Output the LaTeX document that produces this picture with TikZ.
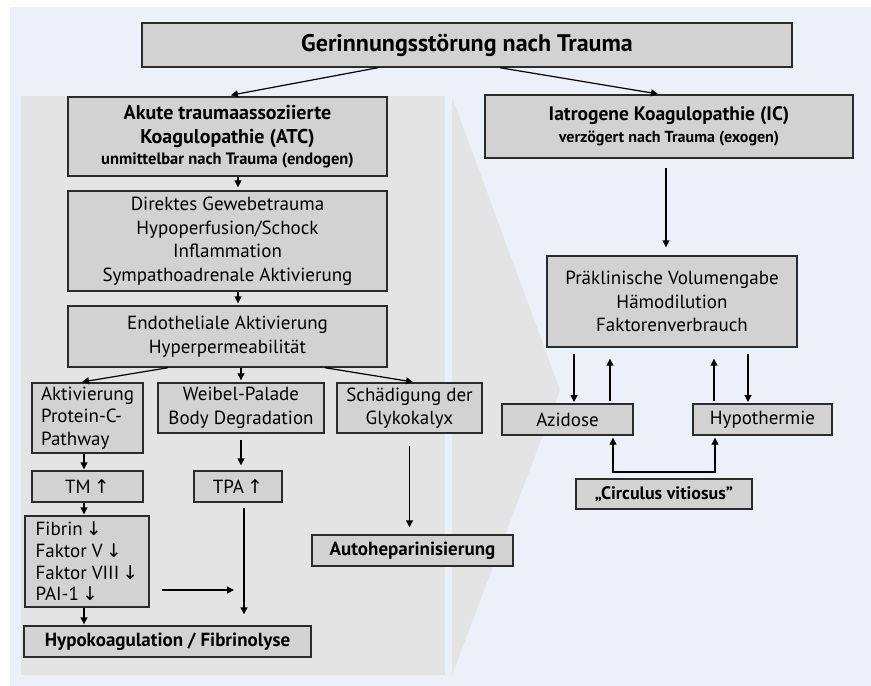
\documentclass[tikz,border=0pt]{standalone}
\usepackage{fontspec}
\setmainfont{PT Sans}
\newfontfamily\arrfont{DejaVu Sans}
\usetikzlibrary{arrows.meta,positioning}
\definecolor{panelblue}{HTML}{ECF0F9}
\definecolor{panelgrey}{HTML}{E4E4E4}
\definecolor{boxgrey}{HTML}{D1D2D1}
\definecolor{boxline}{HTML}{2B2B2B}
\newcommand{\hoch}{{\arrfont\,↑}}
\newcommand{\runter}{{\arrfont\,↓}}

\begin{document}
\begin{tikzpicture}[x=1pt,y=-1pt,>={Triangle[length=7pt,width=7pt]},line width=1.2pt,
  wh/.style 2 args={minimum width=#1,minimum height=#2}]
  \tikzstyle{box}=[draw=boxline,fill=boxgrey,line width=1.4pt,inner sep=0pt,align=center,font=\fontsize{19}{23.5}\selectfont]
  \tikzstyle{hbox}=[box,font=\fontsize{19}{23.5}\selectfont\bfseries]
  \useasboundingbox (0,0) rectangle (871,686);
  \fill[white] (0,0) rectangle (871,686);
  \fill[panelblue] (10,7) rectangle (871,686);
  \fill[panelgrey] (21,96) rectangle (445,675);
  \fill[panelgrey] (452,97) -- (560,390) -- (452,675) -- cycle;

  \node[hbox,wh={650}{44},font=\fontsize{24}{28}\selectfont\bfseries] (title) at (467,45) {Gerinnungsstörung nach Trauma};
  \node[hbox,wh={319}{79},font=\fontsize{20}{24.5}\selectfont\bfseries] (atc) at (227.5,136.5) {Akute traumaassoziierte\\Koagulopathie (ATC)\\[-4pt]\fontsize{16.5}{19}\selectfont unmittelbar nach Trauma (endogen)};
  \node[hbox,wh={368}{63},font=\fontsize{19.5}{24}\selectfont\bfseries] (ic) at (669,126.5) {Iatrogene Koagulopathie (IC)\\[-2pt]\fontsize{16}{19}\selectfont verzögert nach Trauma (exogen)};
  \node[box,wh={319}{100}] (dir) at (227.5,241) {Direktes Gewebetrauma\\Hypoperfusion/Schock\\Inflammation\\Sympathoadrenale Aktivierung};
  \node[box,wh={319}{61}] (endo) at (227.5,336.5) {Endotheliale Aktivierung\\Hyperpermeabilität};
  \node[box,wh={111}{70},align=left,font=\fontsize{19}{22.5}\selectfont] (akt) at (87.5,418) {Aktivierung\\Protein-C-\\Pathway};
  \node[box,wh={166}{50}] (wpb) at (241,408) {Weibel-Palade\\Body Degradation};
  \node[box,wh={145}{50}] (glyk) at (409.5,408) {Schädigung der\\Glykokalyx};
  \node[box,wh={111}{31}] (tm) at (87.5,486.5) {TM\hoch};
  \node[box,wh={88}{31}] (tpa) at (238,486.5) {TPA\hoch};
  \node[box,wh={124}{91},align=left,font=\fontsize{19}{21.7}\selectfont] (fib) at (87,561.5) {Fibrin\runter\\Faktor V\runter\\Faktor VIII\runter\\PAI-1\runter};
  \node[hbox,wh={287}{31}] (hypo) at (167.5,641.5) {Hypokoagulation / Fibrinolyse};
  \node[hbox,wh={201}{31}] (auto) at (412.5,550.5) {Autoheparinisierung};
  \node[box,wh={250}{91}] (prae) at (672,301.5) {Präklinische Volumengabe\\Hämodilution\\Faktorenverbrauch};
  \node[box,wh={131}{31}] (azi) at (567.5,419.5) {Azidose};
  \node[box,wh={139}{31}] (hyp) at (762.5,419.5) {Hypothermie};
  \node[hbox,wh={176}{30},font=\fontsize{18}{22}\selectfont\bfseries] (circ) at (664,494) {„Circulus vitiosus”};

  \coordinate (fibend) at (244,590);
  \coordinate (azidn) at (574,404);
  \coordinate (aziup) at (610,404);
  \coordinate (hypup) at (714,404);
  \coordinate (hypdn) at (748,404);
  \coordinate (cvl) at (613,472);
  \coordinate (cvr) at (715,472);

  \draw[->,shorten >=6pt] ([xshift=-89pt]title.south) -- ([xshift=-2.5pt]atc.north);
  \draw[->,shorten >=2pt] ([xshift=33pt]title.south) -- ([xshift=-9pt]ic.north);
  \draw[->,shorten >=3pt] ([xshift=10.5pt]atc.south) -- ([xshift=10.5pt]dir.north);
  \draw[->,shorten >=2pt] ([xshift=10.5pt]dir.south) -- ([xshift=10.5pt]endo.north);
  \draw[->,shorten >=2pt] ([xshift=-59.5pt]endo.south) -- ([xshift=-7.5pt]akt.north);
  \draw[->,shorten >=2pt] (endo.south -| wpb.north) -- (wpb.north);
  \draw[->,shorten >=2pt] ([xshift=97.5pt]endo.south) -- ([xshift=5.5pt]glyk.north);
  \draw[->,shorten >=1pt] ([xshift=-3.5pt]akt.south) -- ([xshift=-3.5pt]tm.north);
  \draw[->,shorten >=1pt] ([xshift=-3.5pt]tm.south) -- ([xshift=-3.5pt]tm.south |- fib.north);
  \draw[->,shorten >=1pt] ([xshift=-3pt]fib.south) -- ([xshift=-3pt]fib.south |- hypo.north);
  \draw[->,shorten <=6pt,shorten >=5pt] (wpb.south) -- (wpb.south |- tpa.north);
  \draw[->,shorten <=5pt,shorten >=11pt] (fibend |- tpa.south) -- (fibend |- hypo.north);
  \draw[->,shorten <=12pt,shorten >=10pt] (fib.east |- fibend) -- (fibend);
  \draw[->,shorten <=12pt,shorten >=7pt] (glyk.south) -- (glyk.south |- auto.north);
  \draw[->,shorten <=9pt,shorten >=8pt] ([xshift=-3pt]ic.south) -- ([xshift=-3pt]ic.south |- prae.north);
  \draw[->,shorten <=6pt,shorten >=2pt] (azidn |- prae.south) -- (azidn);
  \draw[->,shorten <=3pt,shorten >=11pt] (aziup) -- (aziup |- prae.south);
  \draw[->,shorten <=3pt,shorten >=11pt] (hypup) -- (hypup |- prae.south);
  \draw[->,shorten <=6pt,shorten >=2pt] (hypdn |- prae.south) -- (hypdn);
  \draw[<->,shorten <=2pt,shorten >=2pt] (cvl |- azi.south) -- (cvl) -- (cvr) -- (cvr |- hyp.south);
\end{tikzpicture}
\end{document}
